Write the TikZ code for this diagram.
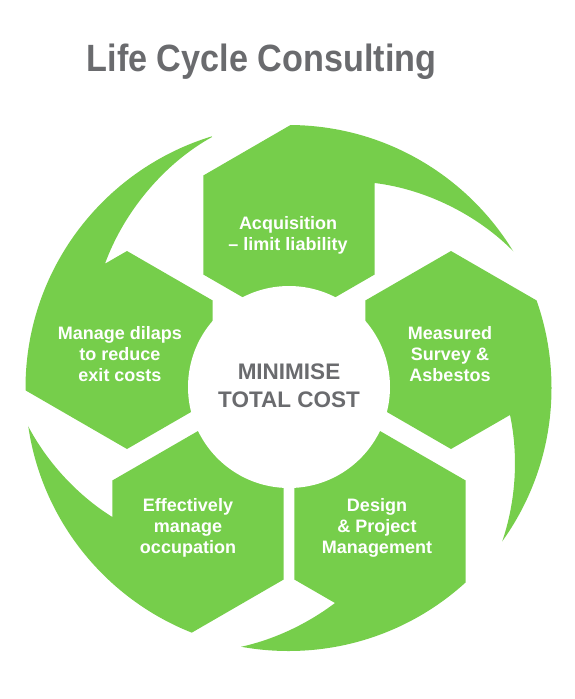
\documentclass[tikz,border=0pt]{standalone}
\usepackage{fontspec}
\setmainfont{Liberation Sans}
\newfontfamily\titlefont[FakeStretch=0.9]{Liberation Sans}
\usepackage{tikz}
\usetikzlibrary{positioning}
\definecolor{lcgreen}{RGB}{118,206,75}
\definecolor{lcgrey}{RGB}{106,107,110}
\tikzset{
  segment/.style={fill=lcgreen},
  seglabel/.style={font=\fontsize{18}{21}\selectfont\bfseries, text=white,
                   align=center, inner sep=0pt, anchor=north},
  corelabel/.style={font=\fontsize{22.5}{28}\selectfont\bfseries, text=lcgrey,
                    align=center, inner sep=0pt, anchor=north},
  titlelabel/.style={font=\titlefont\fontsize{38}{44}\selectfont\bfseries,
                     text=lcgrey, inner sep=0pt, anchor=base},
}

\begin{document}
\begin{tikzpicture}[x=1pt, y=1pt]

\useasboundingbox (0,0) rectangle (575,-699);

% ── Title ─────────────────────────────────────────────────────────────────────
\node[titlelabel] (title) at (261.5,-71) {Life Cycle Consulting};

% ── Ring of five segments (hexagon + tail), clipped by the outer disc ─────────
\coordinate (hub) at (288.5,-388);
\begin{scope}
  \clip (hub) circle[radius=263];
  % Acquisition
  \fill[segment] (332,-101) -- (203.3,-175.5) -- (203.3,-274.5) -- (289,-324)
    -- (374.7,-274.5) -- (374.7,-183) to[out=-7, in=134, looseness=0.85] (515,-253)
    -- (560,-226) -- (560,-60) -- cycle;
  % Measured survey
  \fill[segment] (579.6,-325.3) -- (451,-251) -- (365.3,-300.5) -- (365.3,-399.5)
    -- (451,-449) -- (510,-415) to[out=-78, in=71, looseness=0.85] (502,-542)
    -- (542,-571) -- (600,-600) -- (600,-325.3) -- cycle;
  % Design & project management
  \fill[segment] (465.7,-640) -- (465.7,-480.5) -- (380,-431) -- (294.3,-480.5)
    -- (294.3,-579.5) -- (335,-603) to[out=-143, in=12, looseness=0.85] (240,-647)
    -- (233,-690) -- (465.7,-690) -- cycle;
  % Effectively manage occupation
  \fill[segment] (155.2,-653.8) -- (283.7,-579.5) -- (283.7,-480.5) -- (198,-431)
    -- (112.3,-480.5) -- (112.3,-517) to[out=148, in=-64, looseness=0.85] (25,-420)
    -- (-15,-425) -- (-15,-660) -- cycle;
  % Manage dilaps
  \fill[segment] (-18.7,-364.8) -- (127,-449) -- (212.7,-399.5) -- (212.7,-300.5)
    -- (127,-251) -- (105,-263.7) to[out=70, in=209, looseness=0.85] (212,-137)
    -- (197,-89) -- (-20,-87) -- cycle;
\end{scope}

% ── Centre disc ───────────────────────────────────────────────────────────────
\fill[white] (289,-387) circle[radius=101];
\node[corelabel] (core) at (289,-363.9) {MINIMISE\\TOTAL COST};

% ── Segment labels ────────────────────────────────────────────────────────────
\node[seglabel] (acq)  at (288,-216.1) {Acquisition\\– limit liability};
\node[seglabel] (meas) at (450,-326.1) {Measured\\Survey \&\\Asbestos};
\node[seglabel] (dsgn) at (377,-497.8) {Design\\\& Project\\Management};
\node[seglabel] (occ)  at (188,-497.8) {Effectively\\manage\\occupation};
\node[seglabel] (dil)  at (120,-326.1) {Manage dilaps\\to reduce\\exit costs};

\end{tikzpicture}
\end{document}
